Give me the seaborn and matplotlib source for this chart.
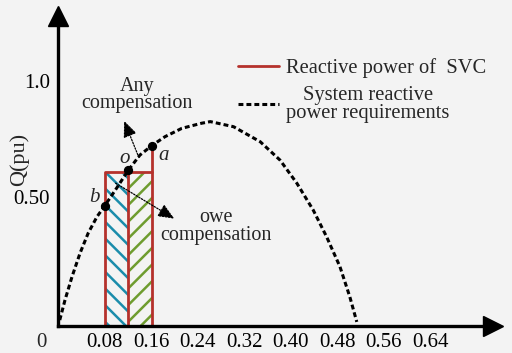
import seaborn as sns
import matplotlib.pyplot as plt
from matplotlib.lines import Line2D

# system reactive power requirement curve
p_curve = [0.003, 0.012, 0.024, 0.038, 0.052, 0.067, 0.080, 0.101, 0.121, 0.141,
           0.161, 0.184, 0.213, 0.247, 0.262, 0.302, 0.348, 0.382, 0.411, 0.439,
           0.462, 0.485, 0.502, 0.514]
q_curve = [-0.030, 0.056, 0.156, 0.259, 0.345, 0.415, 0.461, 0.539, 0.616, 0.681,
           0.721, 0.760, 0.796, 0.818, 0.825, 0.803, 0.738, 0.659, 0.559, 0.444,
           0.329, 0.200, 0.070, -0.038]

# operating points
pt_names = ['b', 'o', 'a']
pt_p = [0.080, 0.121, 0.161]
pt_q = [0.461, 0.616, 0.721]

# SVC output block
svc_left, svc_mid, svc_right = 0.080, 0.121, 0.161
svc_q = 0.609
q_floor = -0.056

x_ticks = [0.08, 0.16, 0.24, 0.32, 0.40, 0.48, 0.56, 0.64]
x_labels = ['0.08', '0.16', '0.24', '0.32', '0.40', '0.48', '0.56', '0.64']
y_ticks = [0.50, 1.0]
y_labels = ['0.50', '1.0']

RED = '#b5312c'
BLUE = '#1a8cab'
GREEN = '#6e9c2f'
BG = '#f3f3f3'

sns.set_theme(style='white', rc={'figure.facecolor': BG, 'axes.facecolor': BG})
plt.rcParams['font.family'] = ['Liberation Serif', 'DejaVu Serif']
plt.rcParams['hatch.linewidth'] = 1.8

fig = plt.figure(figsize=(5.12, 3.53), dpi=100)
ax = fig.add_axes([0, 0, 1, 1])
ax.set_xlim(-0.0998, 0.781)
ax.set_ylim(-0.172, 1.349)

# hatched halves of the SVC block
ax.bar([svc_left], [svc_q - q_floor], width=svc_mid - svc_left, bottom=q_floor,
       align='edge', facecolor='none', edgecolor=BLUE, hatch='\\\\', lw=0, zorder=1)
ax.bar([svc_mid], [svc_q - q_floor], width=svc_right - svc_mid, bottom=q_floor,
       align='edge', facecolor='none', edgecolor=GREEN, hatch='//', lw=0, zorder=1)

# red outline
ax.plot([svc_left, svc_left, svc_right], [q_floor, svc_q, svc_q], color=RED, lw=2, zorder=2)
ax.plot([svc_mid, svc_mid], [q_floor, svc_q], color=RED, lw=2, zorder=2)
ax.plot([svc_right, svc_right], [q_floor, pt_q[2]], color=RED, lw=2, zorder=2)

# demand curve
sns.lineplot(x=p_curve, y=q_curve, ax=ax, sort=False, estimator=None, color='black',
             lw=2.2, dashes=False, zorder=3)
ax.lines[-1].set_dashes((1.6, 1.0))

ax.scatter(pt_p, pt_q, s=32, color='black', zorder=5)
label_off = {'b': (-0.018, 0.035), 'o': (-0.006, 0.052), 'a': (0.020, -0.040)}
for n, p, q in zip(pt_names, pt_p, pt_q):
    dx, dy = label_off[n]
    ax.text(p + dx, q + dy, n, style='italic', fontsize=15, ha='center', va='center')

# annotations
arrow_kw = dict(arrowstyle='-|>,head_length=0.7,head_width=0.3', color='black',
                lw=0.9, ls=(0, (1.2, 1.2)), mutation_scale=14)
ax.annotate('', xy=(0.112, 0.839), xytext=(0.141, 0.659), arrowprops=arrow_kw, zorder=4)
ax.text(0.136, 0.94, 'Any\ncompensation', fontsize=14.5, ha='center', va='center',
        linespacing=0.9)
ax.annotate('', xy=(0.204, 0.401), xytext=(0.095, 0.566), arrowprops=arrow_kw, zorder=4)
ax.text(0.272, 0.372, 'owe\ncompensation', fontsize=14.5, ha='center', va='center',
        linespacing=0.9)

# axes with arrows
for s in ['top', 'right']:
    ax.spines[s].set_visible(False)
ax.spines['left'].set_position(('data', 0))
ax.spines['bottom'].set_position(('data', q_floor))
ax.spines['left'].set_bounds(q_floor, 1.28)
ax.spines['bottom'].set_bounds(0, 0.748)
for s in ['left', 'bottom']:
    ax.spines[s].set_linewidth(2.4)
    ax.spines[s].set_color('black')
ax.plot([0.748], [q_floor], marker='>', ms=14, color='black', clip_on=False)
ax.plot([0], [1.28], marker='^', ms=14, color='black', clip_on=False)

ax.set_xticks(x_ticks, x_labels)
ax.set_yticks(y_ticks, y_labels)
ax.tick_params(axis='both', direction='in', length=8.6, width=2, color='black',
               labelsize=15, labelcolor='black')
ax.tick_params(axis='x', pad=5)
ax.tick_params(axis='y', pad=6)
ax.text(-0.028, -0.125, '0', fontsize=15, ha='center', va='center')
ax.text(-0.066, 0.66, 'Q(pu)', fontsize=16, rotation=90, ha='center', va='center')

handles = [Line2D([], [], color=RED, lw=2),
           Line2D([], [], color='black', lw=2.2, dashes=(1.6, 1.0))]
leg = ax.legend(handles, ['Reactive power of  SVC', 'System reactive\npower requirements'],
                loc='upper left', bbox_to_anchor=(238 / 512, 1 - 58 / 353), frameon=False,
                fontsize=14.8, handlelength=2.0, handletextpad=0.35, labelspacing=0.4,
                borderpad=0, borderaxespad=0)
for t in leg.get_texts():
    t.set_multialignment('center')
    t.set_linespacing(0.9)

fig.savefig('out.png', dpi=100, facecolor=BG)
